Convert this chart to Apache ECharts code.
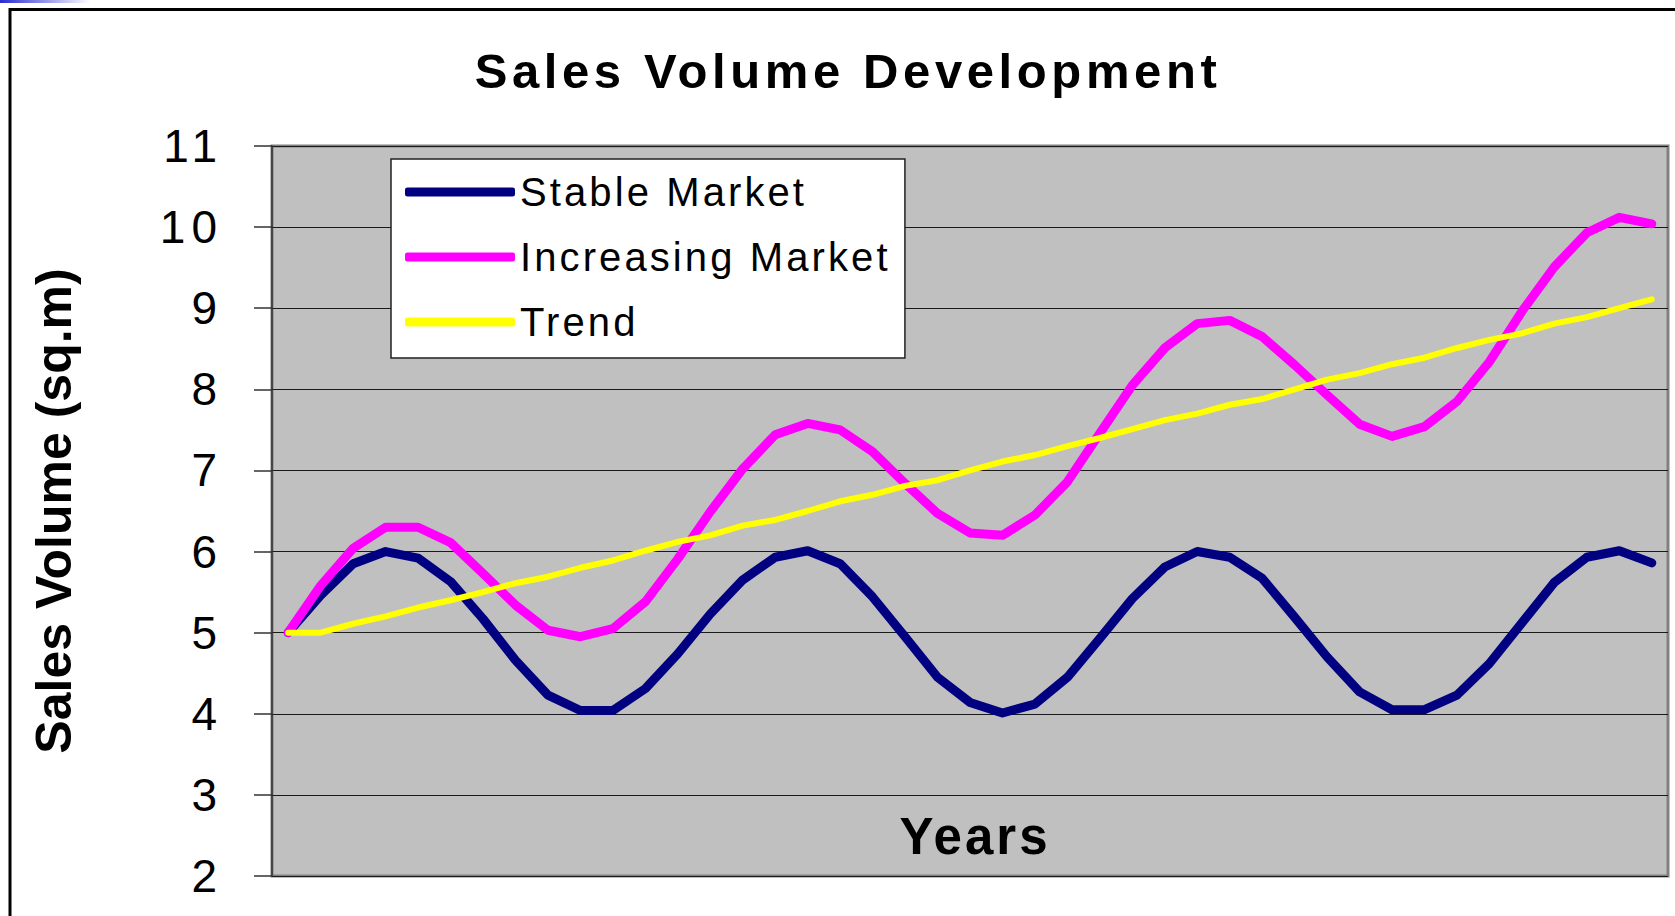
<!DOCTYPE html>
<html>
<head>
<meta charset="utf-8">
<script src="https://cdn.jsdelivr.net/npm/echarts@6.0.0/dist/echarts.min.js"></script>
<style>
  html, body { margin: 0; padding: 0; background: #ffffff; }
  #chart { width: 1675px; height: 916px; }
  /* letter spacing per text group (selected by unique font size) */
  #chart svg text[style*="49px"] { letter-spacing: 4.6px; }
  #chart svg text[style*="46px"] { letter-spacing: 6px; }
  #chart svg text[style*="40px"] { letter-spacing: 3.1px; }
  #chart svg text[style*="51px"] { letter-spacing: 3px; }
</style>
</head>
<body>
<div id="chart"></div>
<script>
// ---- data ----
const chartTitle = 'Sales Volume Development';
const yAxisTitle = 'Sales Volume (sq.m)';
const xAxisTitle = 'Years';
const seriesNames = ['Stable Market', 'Increasing Market', 'Trend'];
const years = ['1','2','3','4','5','6','7','8','9','10','11','12','13','14','15','16','17','18','19','20',
  '21','22','23','24','25','26','27','28','29','30','31','32','33','34','35','36','37','38','39','40','41','42','43'];
const stableMarket = [5.00, 5.46, 5.85, 6.00, 5.92, 5.63, 5.17, 4.66, 4.23, 4.04, 4.04, 4.31, 4.74, 5.23, 5.65,
  5.93, 6.01, 5.85, 5.44, 4.95, 4.45, 4.14, 4.01, 4.12, 4.45, 4.93, 5.42, 5.81, 6.00, 5.93, 5.67, 5.19, 4.70,
  4.27, 4.05, 4.05, 4.23, 4.62, 5.12, 5.62, 5.93, 6.01, 5.86];
const increasingMarket = [5.00, 5.58, 6.04, 6.30, 6.30, 6.11, 5.73, 5.34, 5.03, 4.95, 5.05, 5.38, 5.91, 6.49,
  7.02, 7.44, 7.58, 7.50, 7.23, 6.84, 6.47, 6.23, 6.20, 6.45, 6.86, 7.46, 8.05, 8.51, 8.81, 8.85, 8.65, 8.30,
  7.93, 7.57, 7.42, 7.54, 7.85, 8.34, 8.96, 9.51, 9.93, 10.12, 10.04];
const trend = [5.00, 5.00, 5.11, 5.20, 5.31, 5.40, 5.50, 5.61, 5.69, 5.80, 5.89, 6.01, 6.12, 6.20, 6.32, 6.39,
  6.50, 6.62, 6.70, 6.81, 6.88, 7.00, 7.11, 7.19, 7.30, 7.40, 7.51, 7.62, 7.70, 7.81, 7.88, 8.00, 8.12, 8.20,
  8.31, 8.39, 8.51, 8.61, 8.69, 8.81, 8.89, 9.00, 9.11];
const yMin = 2, yMax = 11, yStep = 1;

// ---- chart ----
const FONT = 'Liberation Sans';
const colors = ['#000080', '#FF00FF', '#FFFF00'];
const widths = [9, 9, 6];
const seriesData = [stableMarket, increasingMarket, trend];

const chart = echarts.init(document.getElementById('chart'), null, { renderer: 'svg' });
chart.setOption({
  animation: false,
  backgroundColor: '#ffffff',
  graphic: [
    { type: 'rect', silent: true, shape: { x: 0, y: 0, width: 90, height: 3 },
      style: { fill: new echarts.graphic.LinearGradient(0, 0, 1, 0, [
        { offset: 0, color: '#2a2ad0' }, { offset: 1, color: '#ffffff' }]) } },
    { type: 'rect', silent: true, shape: { x: 10, y: 9.5, width: 1700, height: 1000 },
      style: { fill: 'none', stroke: '#000000', lineWidth: 3 } },
    { type: 'text', silent: true, x: 848, y: 71,
      style: { text: chartTitle, fill: '#000000', font: 'bold 49px ' + FONT,
        fontFamily: FONT, fontSize: 49, fontWeight: 'bold',
        textAlign: 'center', textVerticalAlign: 'middle' } }
  ],
  grid: {
    left: 272, right: 7, top: 146, bottom: 40,
    show: true, backgroundColor: '#C0C0C0', borderColor: '#808080', borderWidth: 3
  },
  legend: {
    orient: 'vertical', left: 391, top: 159,
    backgroundColor: '#ffffff', borderColor: '#222222', borderWidth: 1.5, borderRadius: 0,
    padding: [13, 67, 16, 14],
    itemWidth: 110, itemHeight: 9, itemGap: 25,
    icon: 'roundRect',
    textStyle: { fontFamily: FONT, fontSize: 40, color: '#000000', lineHeight: 40 },
    data: seriesNames
  },
  xAxis: {
    type: 'category', data: years, boundaryGap: true,
    axisLine: { show: false }, axisTick: { show: false }, axisLabel: { show: false },
    splitLine: { show: false },
    name: xAxisTitle, nameLocation: 'middle', nameGap: -40,
    nameTextStyle: { fontFamily: FONT, fontSize: 51, fontWeight: 'bold', color: '#000000',
      verticalAlign: 'middle', align: 'center', padding: [0, 0, 0, 10] }
  },
  yAxis: {
    type: 'value', min: yMin, max: yMax, interval: yStep,
    axisLine: { show: true, lineStyle: { color: '#333333', width: 1.5 } },
    axisTick: { show: true, inside: false, length: 18, lineStyle: { color: '#333333', width: 1.5 } },
    axisLabel: { fontFamily: FONT, fontSize: 46, color: '#000000', margin: 49 },
    splitLine: { show: true, lineStyle: { color: '#1a1a1a', width: 1 } },
    name: yAxisTitle, nameLocation: 'middle', nameGap: 218, nameRotate: 90,
    nameTextStyle: { fontFamily: FONT, fontSize: 50, fontWeight: 'bold', color: '#000000',
      verticalAlign: 'middle', align: 'center' }
  },
  series: seriesNames.map((name, k) => ({
    name: name, type: 'line', data: seriesData[k],
    symbol: 'none', showSymbol: false, smooth: false,
    itemStyle: { color: colors[k] },
    lineStyle: { color: colors[k], width: widths[k], cap: 'round', join: 'round' },
    emphasis: { disabled: true }
  }))
});
</script>
</body>
</html>
